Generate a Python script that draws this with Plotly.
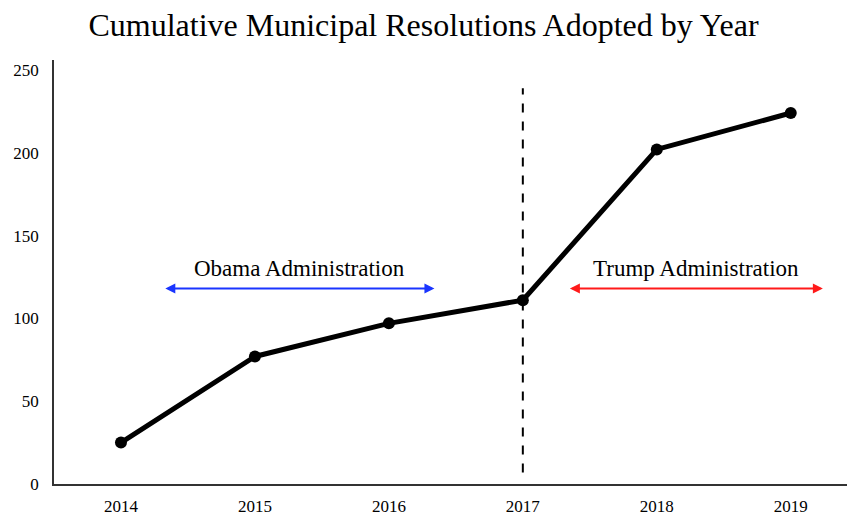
import plotly.graph_objects as go

years = [2014, 2015, 2016, 2017, 2018, 2019]
resolutions = [25, 77, 97, 111, 202, 224]
y_ticks = [0, 50, 100, 150, 200, 250]

obama_span = [2014.32, 2016.34]
trump_span = [2017.34, 2019.24]
arrow_level = 118
label_level = 130
divider_year = 2017
divider_span = [7, 239]

font_family = "Liberation Serif, DejaVu Serif, serif"

fig = go.Figure()

fig.add_trace(go.Scatter(
    x=[divider_year, divider_year], y=divider_span, mode="lines",
    line=dict(color="black", width=2, dash="dash"), hoverinfo="skip",
))

fig.add_trace(go.Scatter(
    x=years, y=resolutions, mode="lines+markers",
    line=dict(color="black", width=5),
    marker=dict(color="black", size=12),
))

def span_arrow(span, color):
    return dict(
        x=span[1], y=arrow_level, ax=span[0], ay=arrow_level,
        xref="x", yref="y", axref="x", ayref="y",
        showarrow=True, arrowhead=2, startarrowhead=2, arrowside="end+start",
        arrowsize=1, arrowwidth=2, arrowcolor=color, text="",
    )

fig.update_layout(
    width=847, height=516,
    margin=dict(l=54, r=0, t=60, b=27),
    paper_bgcolor="white", plot_bgcolor="white",
    showlegend=False,
    font=dict(family=font_family, color="black"),
    title=dict(
        text="Cumulative Municipal Resolutions Adopted by Year",
        x=0.5, xanchor="center", y=0.952, yanchor="middle",
        font=dict(size=32, family=font_family, color="black"),
    ),
    xaxis=dict(
        range=[2013.5, 2019.42], tickvals=years, ticktext=[str(y) for y in years],
        showgrid=False, zeroline=False, showline=True, linecolor="#333", linewidth=1.5,
        ticks="", tickfont=dict(size=17), ticklabelstandoff=6,
    ),
    yaxis=dict(
        range=[0, 256], tickvals=y_ticks, showgrid=False, zeroline=False,
        showline=True, linecolor="#333", linewidth=1.5,
        ticks="", tickfont=dict(size=17), ticklabelstandoff=10,
    ),
    annotations=[
        span_arrow(obama_span, "#1a35ff"),
        span_arrow(trump_span, "#ff1a1a"),
        dict(x=sum(obama_span) / 2, y=label_level, xref="x", yref="y",
             text="Obama Administration", showarrow=False, font=dict(size=23)),
        dict(x=sum(trump_span) / 2, y=label_level, xref="x", yref="y",
             text="Trump Administration", showarrow=False, font=dict(size=23)),
    ],
)

fig.write_html("out.html")
